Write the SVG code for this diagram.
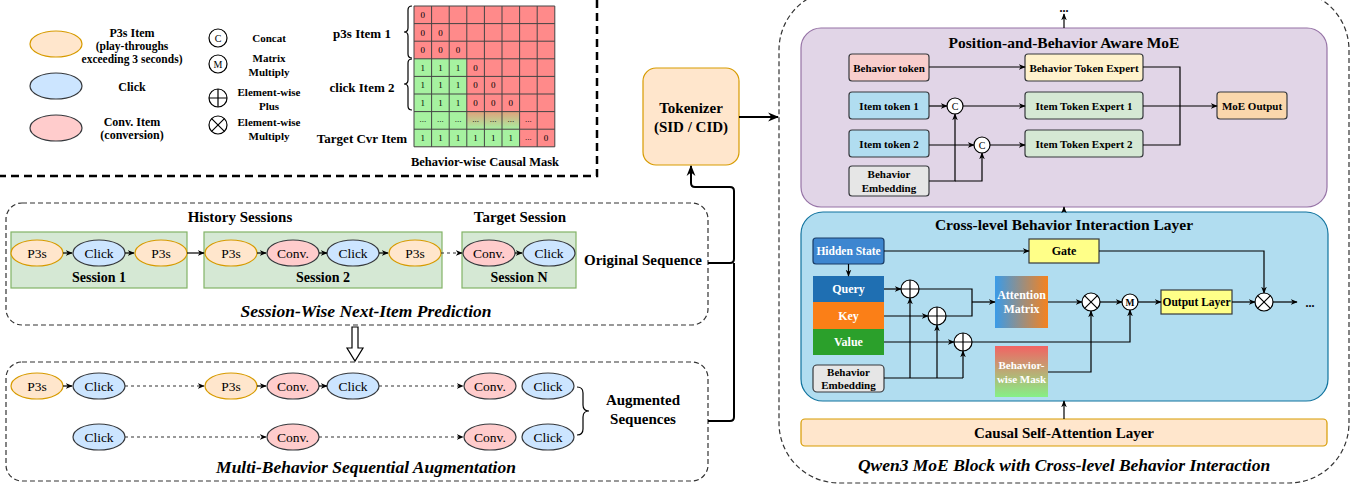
<svg xmlns="http://www.w3.org/2000/svg" width="1367" height="489" viewBox="0 0 1367 489">
<style>
text{font-family:"Liberation Serif","Times New Roman",serif;fill:#000}
.b{font-weight:bold}
.i{font-style:italic}
.m{text-anchor:middle}
.w{fill:#fff}
.p3s{fill:#ffe6cc;stroke:#d79b00;stroke-width:1.2}
.clk{fill:#cce5ff;stroke:#36393d;stroke-width:1.2}
.cnv{fill:#ffcccc;stroke:#36393d;stroke-width:1.2}
.sess{fill:#d5e8d4;stroke:#82b366;stroke-width:1.2}
.ln{fill:none;stroke:#000;stroke-width:1.2}
.ln2{fill:none;stroke:#000;stroke-width:2}
.dl{fill:none;stroke:#333;stroke-width:1.2;stroke-dasharray:3,3}
.dash{fill:none;stroke:#333;stroke-width:1.2;stroke-dasharray:5,3}
.op{fill:#fff;stroke:#000;stroke-width:1.2}
.bx{stroke:#36393d;stroke-width:1.2}
.grid{fill:none;stroke:#444;stroke-width:1}
.cell{font-size:9px}
</style>
<defs>
<marker id="a" viewBox="0 0 10 10" refX="9" refY="5" markerWidth="7" markerHeight="7" orient="auto" markerUnits="userSpaceOnUse"><path d="M0,1 L10,5 L0,9 L3,5 z" fill="#000"/></marker>
<marker id="aL" viewBox="0 0 10 10" refX="9" refY="5" markerWidth="11" markerHeight="11" orient="auto" markerUnits="userSpaceOnUse"><path d="M0,1 L10,5 L0,9 L3,5 z" fill="#000"/></marker>
<linearGradient id="gAtt" x1="0" y1="0" x2="1" y2="0"><stop offset="0" stop-color="#3a9be8"/><stop offset="1" stop-color="#f5821f"/></linearGradient>
<linearGradient id="gMask" x1="0" y1="0" x2="0" y2="1"><stop offset="0" stop-color="#f26363"/><stop offset="1" stop-color="#86f086"/></linearGradient>
<linearGradient id="gCell" x1="0" y1="0" x2="0" y2="1"><stop offset="0" stop-color="#e0a07c"/><stop offset="1" stop-color="#a6f0a0"/></linearGradient>
</defs>

<!-- top-left frame -->
<path d="M597,0 L597,176 L0,176" fill="none" stroke="#000" stroke-width="2.5" stroke-dasharray="8,5"/>

<!-- legend -->
<g id="legend">
<ellipse class="p3s" cx="56" cy="44" rx="26" ry="13"/>
<ellipse class="clk" cx="56" cy="86" rx="26" ry="13"/>
<ellipse class="cnv" cx="56" cy="128" rx="26" ry="13"/>
<text class="b m" x="132" y="37" font-size="12">P3s Item</text>
<text class="b m" x="132" y="50" font-size="11.5">(play-throughs</text>
<text class="b m" x="132" y="63" font-size="11.5">exceeding 3 seconds)</text>
<text class="b m" x="132" y="91" font-size="12">Click</text>
<text class="b m" x="132" y="126" font-size="12">Conv. Item</text>
<text class="b m" x="132" y="139" font-size="12">(conversion)</text>
<circle class="op" cx="218" cy="38" r="9"/><text class="m" x="218" y="42" font-size="10">C</text>
<circle class="op" cx="218" cy="64" r="9"/><text class="m" x="218" y="68" font-size="10">M</text>
<circle class="op" cx="218" cy="98" r="9"/><path class="ln" d="M209,98 H227 M218,89 V107"/>
<circle class="op" cx="218" cy="125" r="9"/><path class="ln" d="M211.6,118.6 L224.4,131.4 M224.4,118.6 L211.6,131.4"/>
<text class="b m" x="269" y="42" font-size="11">Concat</text>
<text class="b m" x="269" y="62" font-size="11">Matrix</text>
<text class="b m" x="269" y="76" font-size="11">Multiply</text>
<text class="b m" x="269" y="96" font-size="11">Element-wise</text>
<text class="b m" x="269" y="110" font-size="11">Plus</text>
<text class="b m" x="269" y="126" font-size="11">Element-wise</text>
<text class="b m" x="269" y="140" font-size="11">Multiply</text>
</g>

<!-- causal mask -->
<g id="mask">
<rect x="414" y="6" width="140.8" height="140.8" fill="#ff8a8a"/>
<path d="M414,58.8 H466.8 V129.2 H519.6 V146.8 H414 Z" fill="#a6f2a0"/>
<rect x="466.8" y="111.6" width="52.8" height="17.6" fill="url(#gCell)"/>
<path class="grid" d="M414,6 V146.8 M431.6,6 V146.8 M449.2,6 V146.8 M466.8,6 V146.8 M484.4,6 V146.8 M502,6 V146.8 M519.6,6 V146.8 M537.2,6 V146.8 M554.8,6 V146.8 M414,6 H554.8 M414,23.6 H554.8 M414,41.2 H554.8 M414,58.8 H554.8 M414,76.4 H554.8 M414,94 H554.8 M414,111.6 H554.8 M414,129.2 H554.8 M414,146.8 H554.8"/>
<g class="cell" text-anchor="middle">
<text x="422.8" y="18">0</text>
<text x="422.8" y="35.6">0</text><text x="440.4" y="35.6">0</text>
<text x="422.8" y="53.2">0</text><text x="440.4" y="53.2">0</text><text x="458" y="53.2">0</text>
<text x="422.8" y="70.8">1</text><text x="440.4" y="70.8">1</text><text x="458" y="70.8">1</text><text x="475.6" y="70.8">0</text>
<text x="422.8" y="88.4">1</text><text x="440.4" y="88.4">1</text><text x="458" y="88.4">1</text><text x="475.6" y="88.4">0</text><text x="493.2" y="88.4">0</text>
<text x="422.8" y="106">1</text><text x="440.4" y="106">1</text><text x="458" y="106">1</text><text x="475.6" y="106">0</text><text x="493.2" y="106">0</text><text x="510.8" y="106">0</text>
<text x="422.8" y="122">...</text><text x="440.4" y="122">...</text><text x="458" y="122">...</text><text x="475.6" y="122">...</text><text x="493.2" y="122">...</text><text x="510.8" y="122">...</text><text x="528.4" y="122">...</text>
<text x="422.8" y="141.2">1</text><text x="440.4" y="141.2">1</text><text x="458" y="141.2">1</text><text x="475.6" y="141.2">1</text><text x="493.2" y="141.2">1</text><text x="510.8" y="141.2">1</text><text x="528.4" y="139.6">...</text><text x="546" y="141.2">0</text>
</g>
<path class="ln" d="M412,6 Q408,6 408,10 L408,28 Q408,32 404,32 Q408,32 408,36 L408,54 Q408,58 412,58" stroke-width="1"/>
<path class="ln" d="M412,59 Q408,59 408,63 L408,80 Q408,84 404,84 Q408,84 408,88 L408,106 Q408,110 412,110" stroke-width="1"/>
<text class="b m" x="362" y="38" font-size="13">p3s Item 1</text>
<text class="b m" x="362" y="92" font-size="13">click Item 2</text>
<text class="b m" x="362" y="143" font-size="13">Target Cvr Item</text>
<text class="b m" x="485" y="166" font-size="12.5">Behavior-wise Causal Mask</text>
</g>

<!-- original sequence container -->
<g id="session-wise">
<rect class="dash" x="6" y="203" width="702" height="122" rx="16"/>
<text class="b m" x="240" y="222" font-size="15">History Sessions</text>
<text class="b m" x="520" y="222" font-size="15">Target Session</text>
<rect class="sess" x="11" y="232" width="176" height="56"/>
<rect class="sess" x="204" y="232" width="238" height="56"/>
<rect class="sess" x="462" y="232" width="114" height="56"/>
<text class="b m" x="99" y="282" font-size="14">Session 1</text>
<text class="b m" x="323" y="282" font-size="14">Session 2</text>
<text class="b m" x="519" y="282" font-size="14">Session N</text>
<text class="b m" x="643" y="265" font-size="15">Original Sequence</text>
<text class="b i m" x="366" y="317" font-size="17.5">Session-Wise Next-Item Prediction</text>
</g>
<g id="s1-n1"><ellipse class="p3s" cx="37" cy="253" rx="26" ry="13"/><text class="m" x="37" y="258" font-size="13.5">P3s</text></g>
<g id="s1-n2"><ellipse class="clk" cx="99" cy="253" rx="26" ry="13"/><text class="m" x="99" y="258" font-size="13.5">Click</text></g>
<g id="s1-n3"><ellipse class="p3s" cx="161" cy="253" rx="26" ry="13"/><text class="m" x="161" y="258" font-size="13.5">P3s</text></g>
<g id="s2-n1"><ellipse class="p3s" cx="231" cy="253" rx="26" ry="13"/><text class="m" x="231" y="258" font-size="13.5">P3s</text></g>
<g id="s2-n2"><ellipse class="cnv" cx="293" cy="253" rx="26" ry="13"/><text class="m" x="293" y="258" font-size="13.5">Conv.</text></g>
<g id="s2-n3"><ellipse class="clk" cx="353" cy="253" rx="26" ry="13"/><text class="m" x="353" y="258" font-size="13.5">Click</text></g>
<g id="s2-n4"><ellipse class="p3s" cx="415" cy="253" rx="26" ry="13"/><text class="m" x="415" y="258" font-size="13.5">P3s</text></g>
<g id="sN-n1"><ellipse class="cnv" cx="489" cy="253" rx="26" ry="13"/><text class="m" x="489" y="258" font-size="13.5">Conv.</text></g>
<g id="sN-n2"><ellipse class="clk" cx="549" cy="253" rx="26" ry="13"/><text class="m" x="549" y="258" font-size="13.5">Click</text></g>

<!-- hollow arrow -->
<path d="M352,327 H358 V348 H363 L355,361 L347,348 H352 Z" fill="#fff" stroke="#000" stroke-width="1.2"/>

<!-- augmented container -->
<g id="augmented">
<rect class="dash" x="6" y="362" width="702" height="119" rx="16"/>
<path class="ln" d="M577,387 Q583,387 583,393 L583,405 Q583,411 589,411 Q583,411 583,417 L583,429 Q583,435 577,435" stroke-width="1"/>
<text class="b m" x="643" y="405" font-size="15">Augmented</text>
<text class="b m" x="643" y="424" font-size="15">Sequences</text>
<text class="b i m" x="366" y="473" font-size="17.5">Multi-Behavior Sequential Augmentation</text>
</g>
<g id="a1-n1"><ellipse class="p3s" cx="37" cy="386" rx="26" ry="13"/><text class="m" x="37" y="391" font-size="13.5">P3s</text></g>
<g id="a1-n2"><ellipse class="clk" cx="99" cy="386" rx="26" ry="13"/><text class="m" x="99" y="391" font-size="13.5">Click</text></g>
<g id="a1-n3"><ellipse class="p3s" cx="231" cy="386" rx="26" ry="13"/><text class="m" x="231" y="391" font-size="13.5">P3s</text></g>
<g id="a1-n4"><ellipse class="cnv" cx="293" cy="386" rx="26" ry="13"/><text class="m" x="293" y="391" font-size="13.5">Conv.</text></g>
<g id="a1-n5"><ellipse class="clk" cx="353" cy="386" rx="26" ry="13"/><text class="m" x="353" y="391" font-size="13.5">Click</text></g>
<g id="a1-n6"><ellipse class="cnv" cx="490" cy="386" rx="26" ry="13"/><text class="m" x="490" y="391" font-size="13.5">Conv.</text></g>
<g id="a1-n7"><ellipse class="clk" cx="548" cy="386" rx="26" ry="13"/><text class="m" x="548" y="391" font-size="13.5">Click</text></g>
<g id="a2-n1"><ellipse class="clk" cx="99" cy="437" rx="26" ry="13"/><text class="m" x="99" y="442" font-size="13.5">Click</text></g>
<g id="a2-n2"><ellipse class="cnv" cx="293" cy="437" rx="26" ry="13"/><text class="m" x="293" y="442" font-size="13.5">Conv.</text></g>
<g id="a2-n3"><ellipse class="cnv" cx="490" cy="437" rx="26" ry="13"/><text class="m" x="490" y="442" font-size="13.5">Conv.</text></g>
<g id="a2-n4"><ellipse class="clk" cx="548" cy="437" rx="26" ry="13"/><text class="m" x="548" y="442" font-size="13.5">Click</text></g>

<!-- tokenizer -->
<g id="tokenizer">
<rect x="643" y="68" width="96" height="97" rx="13" fill="#ffe6cc" stroke="#d79b00" stroke-width="1.2"/>
<text class="b m" x="691" y="113" font-size="15">Tokenizer</text>
<text class="b m" x="691" y="132" font-size="15">(SID / CID)</text>
</g>

<!-- right container -->
<g id="qwen-block">
<rect class="dash" x="779" y="-10" width="570" height="493" rx="60"/>
<text class="b i m" x="1064" y="471" font-size="17.5">Qwen3 MoE Block with Cross-level Behavior Interaction</text>
<text class="b m" x="1064" y="12" font-size="12">...</text>
</g>

<!-- MoE -->
<g id="moe">
<rect x="801" y="28" width="526" height="179" rx="20" fill="#e1d5e7" stroke="#9673a6" stroke-width="1.2"/>
<text class="b m" x="1064" y="48" font-size="15.5">Position-and-Behavior Aware MoE</text>
</g>
<g id="behavior-token"><rect class="bx" x="849" y="54" width="80" height="27" rx="3" fill="#f8cecc"/><text class="b m" x="889" y="71.5" font-size="11">Behavior token</text></g>
<g id="item-token-1"><rect class="bx" x="849" y="92" width="80" height="27" rx="3" fill="#b1ddf0"/><text class="b m" x="889" y="109.5" font-size="11">Item token 1</text></g>
<g id="item-token-2"><rect class="bx" x="849" y="130" width="80" height="27" rx="3" fill="#b1ddf0"/><text class="b m" x="889" y="147.5" font-size="11">Item token 2</text></g>
<g id="moe-behavior-embedding"><rect class="bx" x="849" y="166" width="80" height="30" rx="3" fill="#e6e6e6"/><text class="b m" x="889" y="178" font-size="11">Behavior</text><text class="b m" x="889" y="192" font-size="11">Embedding</text></g>
<g id="concat-1"><circle class="op" cx="955" cy="106" r="8"/><text class="m" x="955" y="110" font-size="10">C</text></g>
<g id="concat-2"><circle class="op" cx="982" cy="145" r="8"/><text class="m" x="982" y="149" font-size="10">C</text></g>
<g id="behavior-token-expert"><rect class="bx" x="1025" y="54" width="118" height="27" rx="3" fill="#fff2cc"/><text class="b m" x="1084" y="71.5" font-size="11">Behavior Token Expert</text></g>
<g id="item-token-expert-1"><rect class="bx" x="1025" y="92" width="118" height="27" rx="3" fill="#d5e8d4"/><text class="b m" x="1084" y="109.5" font-size="11">Item Token Expert 1</text></g>
<g id="item-token-expert-2"><rect class="bx" x="1025" y="130" width="118" height="27" rx="3" fill="#d5e8d4"/><text class="b m" x="1084" y="147.5" font-size="11">Item Token Expert 2</text></g>
<g id="moe-output"><rect class="bx" x="1217" y="92" width="70" height="27" rx="3" fill="#fad7ac"/><text class="b m" x="1252" y="109.5" font-size="11">MoE Output</text></g>

<!-- Cross-level layer -->
<g id="cross-level">
<rect x="801" y="212" width="527" height="189" rx="22" fill="#b1ddf0" stroke="#10739e" stroke-width="1.2"/>
<text class="b m" x="1064" y="230" font-size="15.5">Cross-level Behavior Interaction Layer</text>
</g>
<g id="hidden-state"><rect x="813" y="238" width="71" height="26" rx="3" fill="#3d86d0" stroke="#1a3c66" stroke-width="1.2"/><text class="b m w" x="848.5" y="255" font-size="11.5">Hidden State</text></g>
<g id="query"><rect x="813" y="276" width="71" height="26" fill="#1f6fb2"/><text class="b m w" x="848.5" y="293" font-size="12">Query</text></g>
<g id="key"><rect x="813" y="302" width="71" height="27" fill="#fb7f17"/><text class="b m w" x="848.5" y="320" font-size="12">Key</text></g>
<g id="value"><rect x="813" y="329" width="71" height="26" fill="#2ba02b"/><text class="b m w" x="848.5" y="346" font-size="12">Value</text></g>
<g id="cl-behavior-embedding"><rect class="bx" x="813" y="365" width="71" height="27" rx="4" fill="#e6e6e6"/><text class="b m" x="848.5" y="376" font-size="11">Behavior</text><text class="b m" x="848.5" y="389" font-size="11">Embedding</text></g>
<g id="plus-1"><circle class="op" cx="910" cy="289" r="9"/><path class="ln" d="M901,289 H919 M910,280 V298"/></g>
<g id="plus-2"><circle class="op" cx="937" cy="316" r="9"/><path class="ln" d="M928,316 H946 M937,307 V325"/></g>
<g id="plus-3"><circle class="op" cx="963" cy="342" r="9"/><path class="ln" d="M954,342 H972 M963,333 V351"/></g>
<g id="attention-matrix"><rect x="995" y="276" width="53" height="52" fill="url(#gAtt)"/><text class="b m w" x="1021.5" y="299" font-size="12">Attention</text><text class="b m w" x="1021.5" y="313" font-size="12">Matrix</text></g>
<g id="behavior-wise-mask"><rect x="995" y="346" width="53" height="51" fill="url(#gMask)"/><text class="b m w" x="1021.5" y="369" font-size="11">Behavior-</text><text class="b m w" x="1021.5" y="383" font-size="11">wise Mask</text></g>
<g id="gate"><rect class="bx" x="1029" y="239" width="70" height="24" fill="#ffff88"/><text class="b m" x="1064" y="255" font-size="12">Gate</text></g>
<g id="mult-1"><circle class="op" cx="1091" cy="302" r="9"/><path class="ln" d="M1084.6,295.6 L1097.4,308.4 M1097.4,295.6 L1084.6,308.4"/></g>
<g id="matmul"><circle class="op" cx="1130" cy="302" r="8"/><text class="m b" x="1130" y="306" font-size="9.5">M</text></g>
<g id="output-layer"><rect class="bx" x="1161" y="290" width="71" height="24" fill="#ffff88"/><text class="b m" x="1196.5" y="306" font-size="11.5">Output Layer</text></g>
<g id="mult-2"><circle class="op" cx="1264" cy="302" r="9"/><path class="ln" d="M1257.6,295.6 L1270.4,308.4 M1270.4,295.6 L1257.6,308.4"/></g>
<text class="b m" x="1310" y="307" font-size="12">...</text>

<g id="causal-self-attention"><rect x="801" y="419" width="526" height="27" rx="4" fill="#ffe6cc" stroke="#d79b00" stroke-width="1.2"/><text class="b m" x="1064" y="438" font-size="15">Causal Self-Attention Layer</text></g>

<!-- connectors -->
<g id="connectors">
<path class="ln" marker-end="url(#a)" d="M63,253 H72"/>
<path class="ln" marker-end="url(#a)" d="M125,253 H134"/>
<path class="ln" marker-end="url(#a)" d="M187,253 H204"/>
<path class="ln" marker-end="url(#a)" d="M257,253 H266"/>
<path class="ln" marker-end="url(#a)" d="M319,253 H327"/>
<path class="ln" marker-end="url(#a)" d="M379,253 H388"/>
<path class="dl" marker-end="url(#a)" d="M441,253 H462"/>
<path class="ln" marker-end="url(#a)" d="M515,253 H522"/>
<path class="ln" marker-end="url(#a)" d="M63,386 H72"/>
<path class="dl" marker-end="url(#a)" d="M125,386 H204"/>
<path class="ln" marker-end="url(#a)" d="M257,386 H266"/>
<path class="ln" marker-end="url(#a)" d="M319,386 H327"/>
<path class="dl" marker-end="url(#a)" d="M379,386 H463"/>
<path class="dl" marker-end="url(#a)" d="M125,437 H266"/>
<path class="dl" marker-end="url(#a)" d="M319,437 H463"/>
<path class="ln2" d="M708,421 H730 Q734,421 734,417 V263"/>
<path class="ln2" marker-end="url(#aL)" d="M708,263 H730 Q734,263 734,259 V191 Q734,187 730,187 H695 Q691,187 691,183 V166"/>
<path class="ln2" marker-end="url(#aL)" d="M739,117 H778"/>
<path class="ln" marker-end="url(#a)" d="M1064,28 V14"/>
<path class="ln" marker-end="url(#a)" d="M1064,212 V207"/>
<path class="ln" marker-end="url(#a)" d="M1064,419 V401"/>
<path class="ln" marker-end="url(#a)" d="M929,67 H1025"/>
<path class="ln" marker-end="url(#a)" d="M929,106 H947"/>
<path class="ln" marker-end="url(#a)" d="M963,106 H1025"/>
<path class="ln" marker-end="url(#a)" d="M929,145 H974"/>
<path class="ln" marker-end="url(#a)" d="M990,145 H1025"/>
<path class="ln" marker-end="url(#a)" d="M929,181 H955 V114"/>
<path class="ln" marker-end="url(#a)" d="M955,181 H982 V153"/>
<path class="ln" d="M1143,67 H1180 V145 H1143"/>
<path class="ln" marker-end="url(#a)" d="M1143,106 H1217"/>
<path class="ln" marker-end="url(#a)" d="M848.5,264 V276"/>
<path class="ln" marker-end="url(#a)" d="M884,251 H1029"/>
<path class="ln" marker-end="url(#a)" d="M1099,251 H1264 V293"/>
<path class="ln" marker-end="url(#a)" d="M884,289 H901"/>
<path class="ln" marker-end="url(#a)" d="M884,316 H928"/>
<path class="ln" marker-end="url(#a)" d="M884,342 H954"/>
<path class="ln" d="M884,378 H963"/>
<path class="ln" marker-end="url(#a)" d="M910,378 V298"/>
<path class="ln" marker-end="url(#a)" d="M937,378 V325"/>
<path class="ln" marker-end="url(#a)" d="M963,378 V351"/>
<path class="ln" d="M919,289 H972 V316 H946"/>
<path class="ln" marker-end="url(#a)" d="M972,302 H995"/>
<path class="ln" marker-end="url(#a)" d="M1048,302 H1082"/>
<path class="ln" marker-end="url(#a)" d="M1048,372 H1091 V311"/>
<path class="ln" marker-end="url(#a)" d="M972,342 H1130 V310"/>
<path class="ln" marker-end="url(#a)" d="M1100,302 H1122"/>
<path class="ln" marker-end="url(#a)" d="M1138,302 H1161"/>
<path class="ln" marker-end="url(#a)" d="M1232,302 H1255"/>
<path class="ln" marker-end="url(#a)" d="M1273,302 H1297"/>
</g>
</svg>
